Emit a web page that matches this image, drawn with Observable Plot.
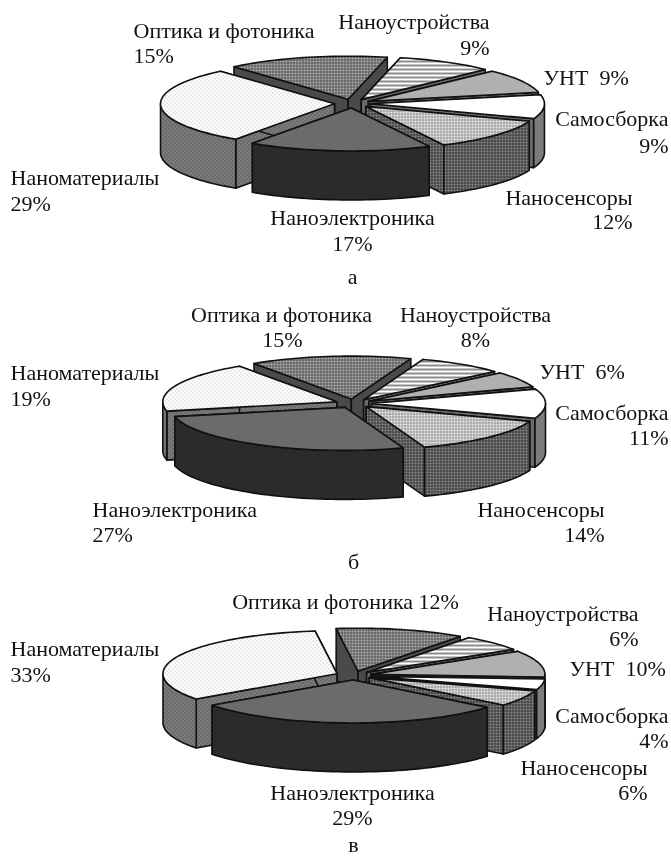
<!DOCTYPE html>
<html lang="ru">
<head>
<meta charset="utf-8">
<script src="https://cdn.jsdelivr.net/npm/d3@7"></script>
<script src="https://cdn.jsdelivr.net/npm/@observablehq/plot@0.6"></script>
<style>html,body{margin:0;padding:0;background:#fff}svg{display:block;filter:blur(0.35px)}</style>
</head>
<body>
<div id="chart"></div>
<script>
// Data
const categories = ["Наноустройства","УНТ","Самосборка","Наносенсоры","Наноэлектроника","Наноматериалы","Оптика и фотоника"];
const sharesA = [9, 9, 9, 12, 17, 29, 15];
const sharesB = [8, 6, 11, 14, 27, 19, 15];
const sharesC = [6, 10, 4, 6, 29, 33, 12];
const panelNames = ["а", "б", "в"];

// Layout (pixels of the 671x856 frame)
const W = 671, H = 856;
const panelsLayout = [
  {shares: sharesA, cx: 352, cy: 103, start: 13},
  {shares: sharesB, cx: 353, cy: 403, start: 20},
  {shares: sharesC, cx: 353, cy: 675, start: 36}
];
const RX = 174, RY = 43, DEPTH = 49, EXPLODE = 18;

// Styles, same order as categories
const topFills  = ["url(#stripes)", "#b0b0b0", "#ffffff", "url(#lightDither)", "#6b6b6b", "url(#sparse)", "url(#darkDither)"];
const wallFills = ["#8a8a8a", "#9a9a9a", "#7c7c7c", "url(#wallDither)", "#2b2b2b", "url(#wallDots)", "#4a4a4a"];
const cutFills  = ["#6a6a6a", "#6a6a6a", "#6a6a6a", "url(#wallDither)", "#4c4c4c", "url(#wallDots)", "#4a4a4a"];

// Text: [text, x, y, anchor]
const textLayout = [
  ["Оптика и фотоника",133,30,"start"],["15%",133,55,"start"],
  ["Наноустройства",489,21,"end"],["9%",489,47,"end"],
  ["УНТ  9%",543,77,"start"],
  ["Самосборка",668,118,"end"],["9%",668,145,"end"],
  ["Наносенсоры",632,197,"end"],["12%",632,221,"end"],
  ["Наноматериалы",10,177,"start"],["29%",10,203,"start"],
  ["Наноэлектроника",352,217,"middle"],["17%",352,243,"middle"],
  [panelNames[0],352,276,"middle"],
  ["Оптика и фотоника",281,314,"middle"],["15%",282,339,"middle"],
  ["Наноустройства",475,314,"middle"],["8%",475,339,"middle"],
  ["УНТ  6%",539,371,"start"],
  ["Самосборка",668,412,"end"],["11%",668,437,"end"],
  ["Наносенсоры",604,509,"end"],["14%",604,534,"end"],
  ["Наноматериалы",10,372,"start"],["19%",10,398,"start"],
  ["Наноэлектроника",92,509,"start"],["27%",92,534,"start"],
  [panelNames[1],353,561,"middle"],
  ["Оптика и фотоника 12%",345,601,"middle"],
  ["Наноустройства",638,613,"end"],["6%",638,638,"end"],
  ["УНТ  10%",569,668,"start"],
  ["Самосборка",668,715,"end"],["4%",668,740,"end"],
  ["Наносенсоры",647,767,"end"],["6%",647,792,"end"],
  ["Наноматериалы",10,648,"start"],["33%",10,674,"start"],
  ["Наноэлектроника",352,792,"middle"],["29%",352,817,"middle"],
  [panelNames[2],353,844,"middle"]
];

const rad = d => d * Math.PI / 180;
function solidMarks({shares, cx, cy, start}) {
  let a = start;
  const slices = shares.map((v, i) => {
    const s = a, e = a + v * 3.6; a = e;
    const mid = (s + e) / 2;
    const ox = cx + EXPLODE * Math.sin(rad(mid));
    const oy = cy - EXPLODE * (RY / RX) * Math.cos(rad(mid));
    return {i, s, e, mid, ox, oy};
  });
  slices.sort((p, q) => Math.cos(rad(q.mid)) - Math.cos(rad(p.mid)));
  const marks = [];
  const poly = (pts, fill, sw = 1.6) => marks.push(Plot.line([...pts, pts[0]], {
    x: "x", y: "y", fill, stroke: "#111", strokeWidth: sw, strokeLinejoin: "round"
  }));
  for (const {i, s, e, ox, oy} of slices) {
    const pt = (t, dz = 0) => ({x: ox + RX * Math.sin(rad(t)), y: oy - RY * Math.cos(rad(t)) + dz});
    const apex = (dz = 0) => ({x: ox, y: oy + dz});
    const arc = (t0, t1, dz = 0) => {
      const n = Math.max(2, Math.ceil(Math.abs(t1 - t0) / 2));
      return d3.range(n + 1).map(k => pt(t0 + (t1 - t0) * k / n, dz));
    };
    // cut faces
    poly([apex(), pt(s), pt(s, DEPTH), apex(DEPTH)], cutFills[i]);
    poly([apex(), pt(e), pt(e, DEPTH), apex(DEPTH)], cutFills[i]);
    // outer wall, the part turned to the viewer
    for (const [lo, hi] of [[90, 270], [450, 630]]) {
      const t0 = Math.max(s, lo), t1 = Math.min(e, hi);
      if (t1 > t0) poly([...arc(t0, t1), ...arc(t1, t0, DEPTH)], wallFills[i]);
    }
    // top face
    poly([apex(), ...arc(s, e)], topFills[i]);
  }
  return marks;
}

const defs = () => d3.create("svg:defs").html(`
  <pattern id="stripes" width="4" height="4" patternUnits="userSpaceOnUse"><rect width="4" height="4" fill="#fff"/><rect y="0" width="4" height="2" fill="#8c8c8c"/></pattern>
  <pattern id="lightDither" width="3" height="3" patternUnits="userSpaceOnUse"><rect width="3" height="3" fill="#999"/><rect width="2" height="2" fill="#eee"/></pattern>
  <pattern id="darkDither" width="3" height="3" patternUnits="userSpaceOnUse"><rect width="3" height="3" fill="#555"/><rect width="2" height="2" fill="#b4b4b4"/></pattern>
  <pattern id="sparse" width="4" height="4" patternUnits="userSpaceOnUse"><rect width="4" height="4" fill="#fff"/><rect width="1" height="1" fill="#aaa"/><rect x="2" y="2" width="1" height="1" fill="#aaa"/></pattern>
  <pattern id="wallDither" width="3" height="3" patternUnits="userSpaceOnUse"><rect width="3" height="3" fill="#3a3a3a"/><rect width="2" height="2" fill="#8c8c8c"/></pattern>
  <pattern id="wallDots" width="4" height="4" patternUnits="userSpaceOnUse"><rect width="4" height="4" fill="#7a7a7a"/><rect width="1" height="1" fill="#444"/><rect x="2" y="2" width="1" height="1" fill="#444"/></pattern>
`).node();

const textRows = textLayout.map(([text, x, y, anchor]) => ({text, x, y, anchor}));

const chart = Plot.plot({
  width: W, height: H,
  margin: 0,
  x: {domain: [0, W], range: [0, W], axis: null},
  y: {domain: [0, H], range: [0, H], axis: null},
  style: {background: "#fff"},
  marks: [
    defs,
    ...panelsLayout.flatMap(solidMarks),
    ...["start", "middle", "end"].map(anchor => Plot.text(textRows.filter(d => d.anchor === anchor), {
      x: "x", y: "y", text: "text", textAnchor: anchor, lineAnchor: "middle",
      fontFamily: "Liberation Serif", fontSize: 22, fill: "#111"
    }))
  ]
});
document.getElementById("chart").appendChild(chart);
</script>
</body>
</html>
